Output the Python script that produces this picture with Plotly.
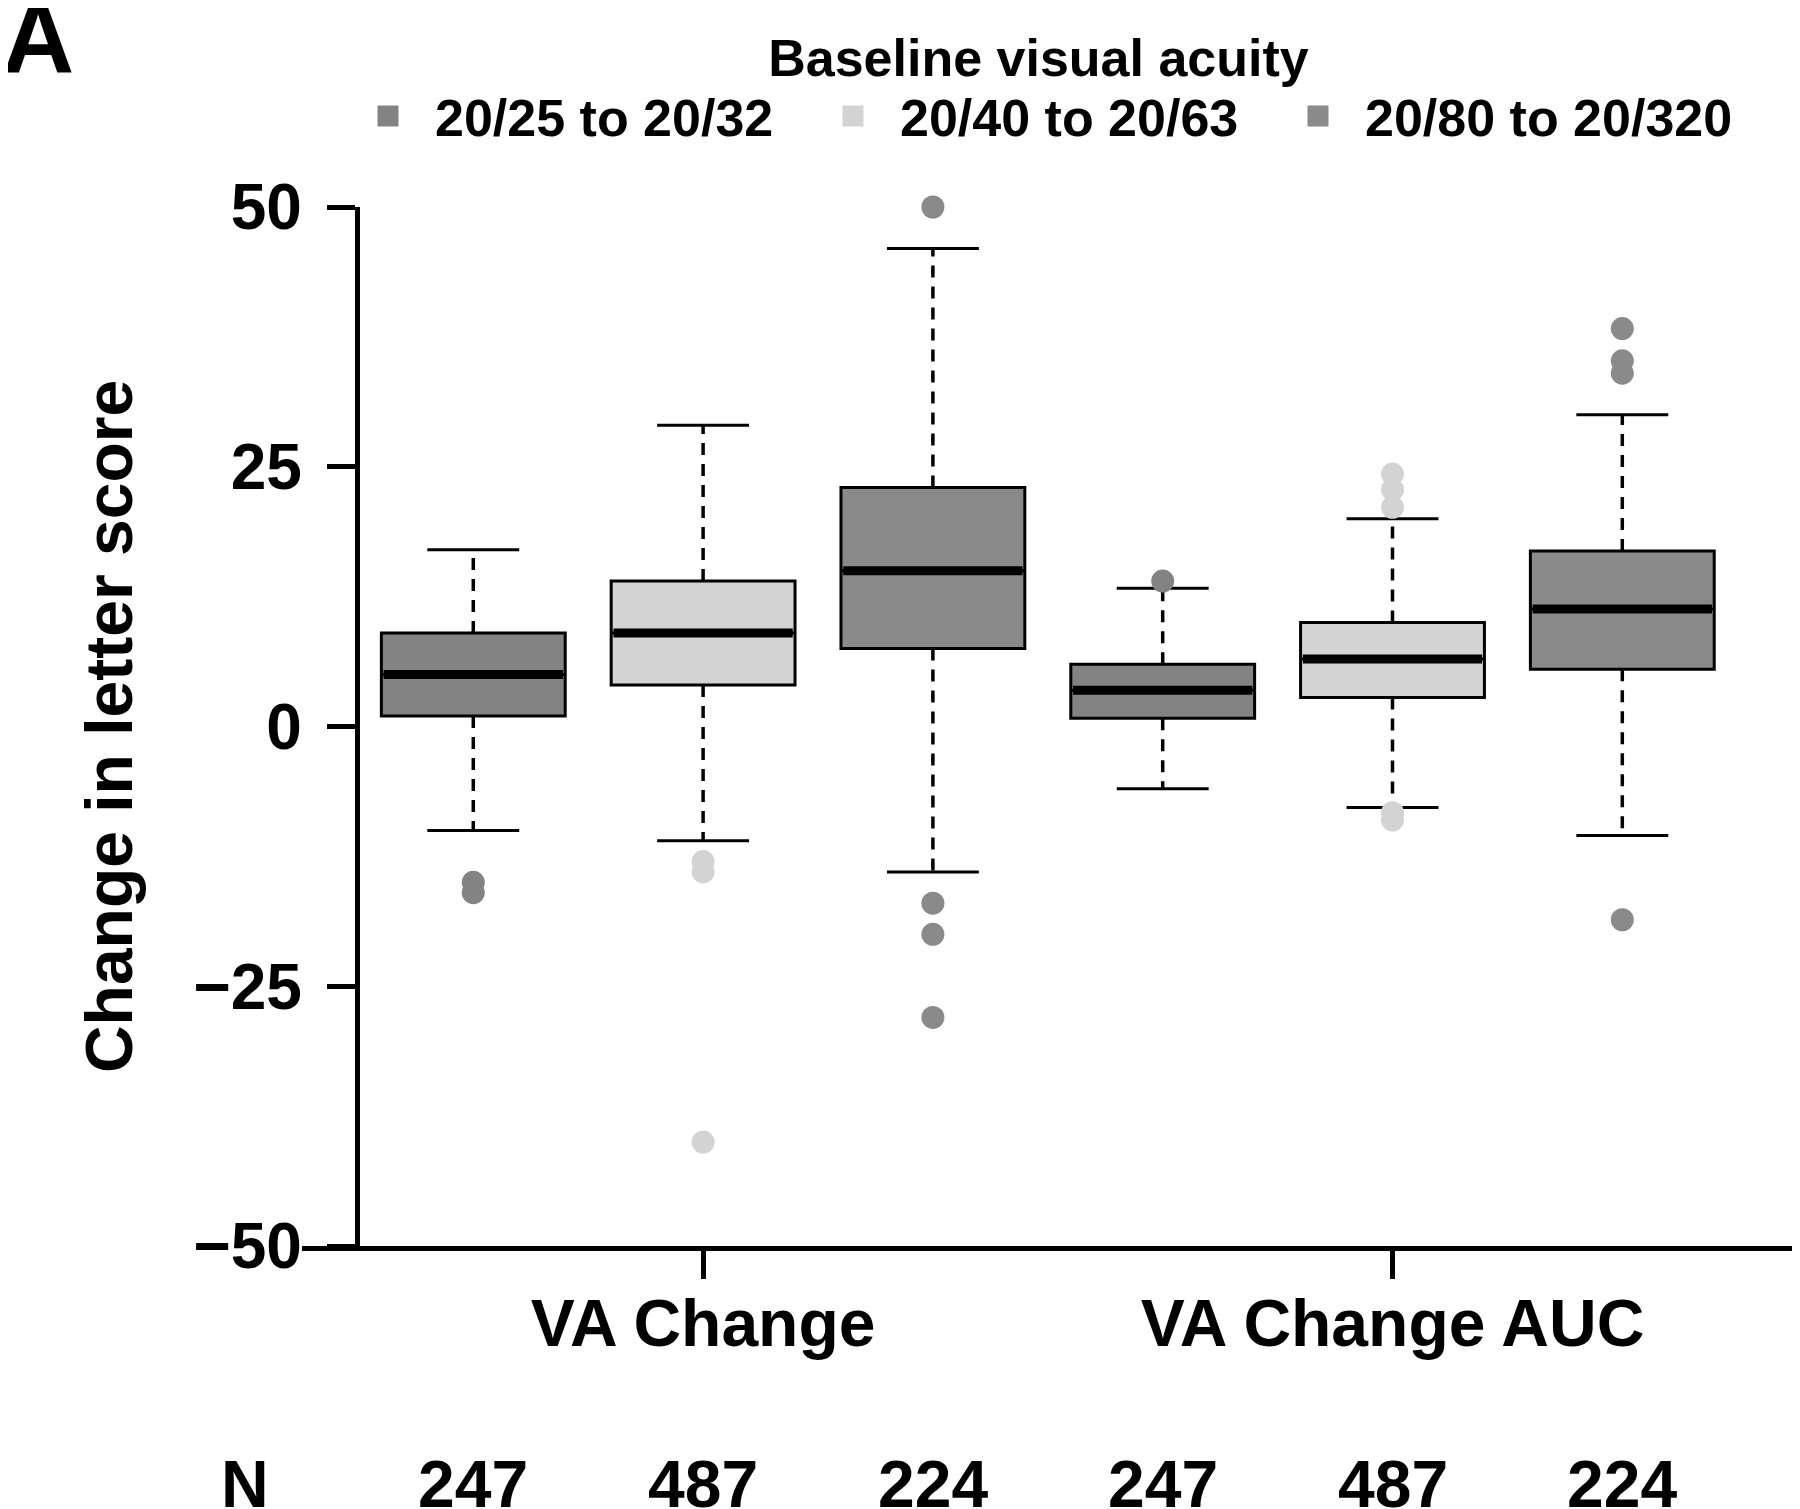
import plotly.graph_objects as go

# ---------------- data ----------------
categories = ["VA Change", "VA Change AUC"]
groups = ["20/25 to 20/32", "20/40 to 20/63", "20/80 to 20/320"]
n_counts = [247, 487, 224, 247, 487, 224]
q1 = [1.0, 4.0, 7.5, 0.8, 2.8, 5.5]
median = [5.0, 9.0, 15.0, 3.5, 6.5, 11.3]
q3 = [9.0, 14.0, 23.0, 6.0, 10.0, 16.9]
lower_whisker = [-10.0, -11.0, -14.0, -6.0, -7.8, -10.5]
upper_whisker = [17.0, 29.0, 46.0, 13.3, 20.0, 30.0]
outliers = [
    [-15.0, -16.0],
    [-13.0, -14.0, -40.0],
    [50.0, -17.0, -20.0, -28.0],
    [14.0],
    [24.3, 22.8, 21.1, -8.3, -9.0],
    [38.3, 35.2, 34.0, -18.6],
]
y_ticks = [-50, -25, 0, 25, 50]

# ---------------- styles ----------------
colors = ["#838383", "#d3d3d3", "#8a8a8a"]
FONT = "Liberation Sans, Arial, Helvetica, sans-serif"
BOX_W = 0.8
CAP_W = 0.4

fig = go.Figure()

for i in range(len(median)):
    pos = i + 1
    g = i % 3
    col = colors[g]
    # dashed whiskers
    fig.add_trace(go.Scatter(
        x=[pos, pos, None, pos, pos],
        y=[q3[i], upper_whisker[i], None, q1[i], lower_whisker[i]],
        mode="lines", line=dict(color="black", width=3.5, dash="12px,9px"),
        showlegend=False, hoverinfo="skip"))
    # whisker caps
    fig.add_trace(go.Scatter(
        x=[pos - CAP_W / 2, pos + CAP_W / 2, None, pos - CAP_W / 2, pos + CAP_W / 2],
        y=[upper_whisker[i], upper_whisker[i], None, lower_whisker[i], lower_whisker[i]],
        mode="lines", line=dict(color="black", width=3),
        showlegend=False, hoverinfo="skip"))
    # box body
    fig.add_trace(go.Box(
        x=[pos], q1=[q1[i]], median=[median[i]], q3=[q3[i]],
        lowerfence=[q1[i]], upperfence=[q3[i]],
        width=BOX_W, whiskerwidth=0, fillcolor=col,
        line=dict(color="black", width=3), boxpoints=False,
        showlegend=False, hoverinfo="skip"))
    # thick median
    fig.add_trace(go.Scatter(
        x=[pos - BOX_W / 2 + 0.01, pos + BOX_W / 2 - 0.01], y=[median[i], median[i]],
        mode="lines", line=dict(color="black", width=9),
        showlegend=False, hoverinfo="skip"))
    # outliers
    fig.add_trace(go.Scatter(
        x=[pos] * len(outliers[i]), y=outliers[i], mode="markers",
        marker=dict(color=col, size=23, line=dict(width=0)), cliponaxis=False,
        showlegend=False, hoverinfo="skip"))

# legend entries
for g, name in enumerate(groups):
    fig.add_trace(go.Scatter(
        x=[None], y=[None], mode="markers", name=name,
        marker=dict(symbol="square", color=colors[g], size=16,
                    line=dict(color=colors[g], width=5))))

# N row
NFONT = dict(size=66, family=FONT, weight="bold", color="black")
annotations = [dict(x=-0.0382, y=-0.2286, xref="paper", yref="paper", text="N",
                    showarrow=False, font=NFONT, xanchor="center", yanchor="middle")]
for i, n in enumerate(n_counts):
    annotations.append(dict(x=i + 1, y=-0.2286, xref="x", yref="paper", text=str(n),
                            showarrow=False, font=NFONT,
                            xanchor="center", yanchor="middle"))
annotations.append(dict(x=-0.2023, y=1.163, xref="paper", yref="paper", text="A",
                        showarrow=False,
                        font=dict(size=100, family=FONT, weight="bold", color="black"),
                        xanchor="left", yanchor="middle"))

fig.update_layout(
    width=1800, height=1509,
    margin=dict(l=294, r=13, t=198.5, b=271, autoexpand=False),
    paper_bgcolor="white", plot_bgcolor="white",
    font=dict(family=FONT, color="black", weight="bold"),
    showlegend=True,
    legend=dict(
        orientation="h", xref="container", yref="container",
        x=0.185, y=1.0, xanchor="left", yanchor="top",
        itemwidth=84, entrywidth=366,
        font=dict(size=52, family=FONT, weight="bold", color="black"),
        title=dict(text="Baseline visual acuity", side="top center",
                   font=dict(size=52, family=FONT, weight="bold", color="black")),
        bgcolor="rgba(0,0,0,0)"),
    xaxis=dict(
        range=[0.2546, 6.7515], tickmode="array", tickvals=[2, 5], ticktext=categories,
        ticks="outside", ticklen=28, tickwidth=5, tickcolor="black",
        showline=True, linewidth=5, linecolor="black",
        showgrid=False, zeroline=False, ticklabelstandoff=-12,
        tickfont=dict(size=66, family=FONT, weight="bold", color="black")),
    yaxis=dict(
        range=[-50, 50], tickmode="array", tickvals=y_ticks,
        ticks="outside", ticklen=28, tickwidth=5, tickcolor="black",
        showline=True, linewidth=5, linecolor="black",
        anchor="free", position=0.0366,
        showgrid=False, zeroline=False, ticklabelstandoff=12,
        tickfont=dict(size=64, family=FONT, weight="bold", color="black"),
        title=dict(text="Change in letter score", standoff=38,
                   font=dict(size=66, family=FONT, weight="bold", color="black"))),
    annotations=annotations,
)

fig.write_html("out.html")
